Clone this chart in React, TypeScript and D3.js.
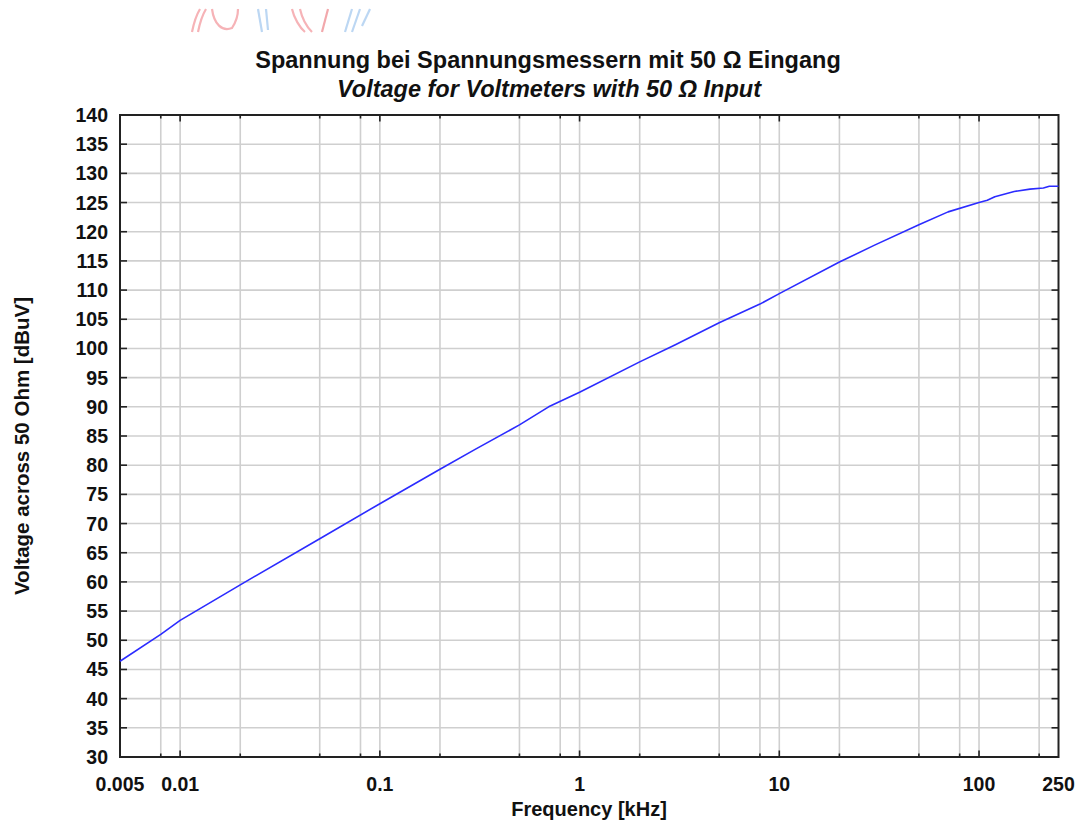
import React, { useEffect, useRef } from 'react';
import * as d3 from 'd3';

// values
const freqKHz = [0.005, 0.008, 0.01, 0.02, 0.05, 0.1, 0.2, 0.3, 0.5, 0.7, 1, 2, 3, 5, 8, 10, 20, 30, 50, 70, 100, 110, 120, 150, 180, 210, 225, 250];
const voltageDbuv = [46.4, 51.0, 53.4, 59.5, 67.4, 73.4, 79.3, 82.7, 86.9, 90.0, 92.5, 97.7, 100.6, 104.4, 107.6, 109.4, 114.8, 117.7, 121.2, 123.4, 125.0, 125.4, 126.0, 126.9, 127.3, 127.5, 127.8, 127.8];

const xLabelTicks = [0.005, 0.01, 0.1, 1, 10, 100, 250];
const xMajorTicks = [0.01, 0.1, 1, 10, 100];
const xMinorTicks = [0.008, 0.02, 0.05, 0.08, 0.2, 0.5, 0.8, 2, 5, 8, 20, 50, 80, 200];
const yTicks = d3.range(30, 141, 5);

const titleDe = 'Spannung bei Spannungsmessern mit 50 \u03A9 Eingang';
const titleEn = 'Voltage for Voltmeters with 50 \u03A9 Input';
const xTitle = 'Frequency [kHz]';
const yTitle = 'Voltage across 50 Ohm [dBuV]';

const App = () => {
  const ref = useRef<SVGSVGElement>(null);

  useEffect(() => {
    const svg = d3.select(ref.current);
    svg.selectAll('*').remove();

    const W = 1081;
    const H = 823;
    const left = 120;
    const right = 1058.5;
    const top = 115;
    const bottom = 757;
    const font = '"Liberation Sans", Arial, sans-serif';

    const x = d3.scaleLog().domain([0.005, 250]).range([left, right]);
    const y = d3.scaleLinear().domain([30, 140]).range([bottom, top]);

    svg.attr('width', W).attr('height', H);
    svg.append('rect').attr('width', W).attr('height', H).attr('fill', '#fff');

    // faded logo remains at the top edge
    const logo = svg.append('g').attr('fill', 'none').attr('stroke-width', 2.2);
    const red = '#f6b3b7';
    const blue = '#bcd7f3';
    logo.append('path').attr('d', 'M192,32 C194,22 197,14 200,9').attr('stroke', red);
    logo.append('path').attr('d', 'M198,32 C200,22 203,14 206,9').attr('stroke', red);
    logo.append('path').attr('d', 'M212,9 C214,24 222,32 232,28 C236,22 238,14 238,9').attr('stroke', red);
    logo.append('path').attr('d', 'M258,9 L262,32').attr('stroke', blue);
    logo.append('path').attr('d', 'M266,9 L268,30').attr('stroke', blue);
    logo.append('path').attr('d', 'M292,9 C294,18 300,28 305,32').attr('stroke', red);
    logo.append('path').attr('d', 'M300,9 C302,18 306,26 312,32').attr('stroke', red);
    logo.append('path').attr('d', 'M322,32 L328,9').attr('stroke', '#f2a8ac');
    logo.append('path').attr('d', 'M345,32 L352,9').attr('stroke', blue);
    logo.append('path').attr('d', 'M352,32 L360,9').attr('stroke', blue);
    logo.append('path').attr('d', 'M362,26 L370,9').attr('stroke', blue);

    // titles
    svg
      .append('text')
      .attr('x', 548)
      .attr('y', 68)
      .attr('text-anchor', 'middle')
      .style('font', `bold 23.5px ${font}`)
      .attr('fill', '#111')
      .text(titleDe);
    svg
      .append('text')
      .attr('x', 549)
      .attr('y', 97)
      .attr('text-anchor', 'middle')
      .style('font', `italic bold 23.5px ${font}`)
      .attr('fill', '#111')
      .text(titleEn);

    // grid
    const grid = svg.append('g').attr('stroke', '#cfcfcf').attr('stroke-width', 1.6);
    grid
      .selectAll('line.gx')
      .data([...xMinorTicks, ...xMajorTicks])
      .enter()
      .append('line')
      .attr('x1', (d) => x(d))
      .attr('x2', (d) => x(d))
      .attr('y1', top)
      .attr('y2', bottom);
    grid
      .selectAll('line.gy')
      .data(yTicks.filter((d) => d > 30 && d < 140))
      .enter()
      .append('line')
      .attr('x1', left)
      .attr('x2', right)
      .attr('y1', (d) => y(d))
      .attr('y2', (d) => y(d));

    // ticks on all four sides, pointing inward
    const ticks = svg.append('g').attr('stroke', '#222').attr('stroke-width', 1.6);
    const addXTicks = (vals: number[], len: number) => {
      vals.forEach((v) => {
        ticks.append('line').attr('x1', x(v)).attr('x2', x(v)).attr('y1', bottom).attr('y2', bottom - len);
        ticks.append('line').attr('x1', x(v)).attr('x2', x(v)).attr('y1', top).attr('y2', top + len);
      });
    };
    addXTicks(xMinorTicks, 3.5);
    addXTicks(xMajorTicks, 6.5);
    yTicks.forEach((v) => {
      ticks.append('line').attr('x1', left).attr('x2', left + 7).attr('y1', y(v)).attr('y2', y(v));
      ticks.append('line').attr('x1', right).attr('x2', right - 7).attr('y1', y(v)).attr('y2', y(v));
    });

    // frame
    svg
      .append('rect')
      .attr('x', left)
      .attr('y', top)
      .attr('width', right - left)
      .attr('height', bottom - top)
      .attr('fill', 'none')
      .attr('stroke', '#222')
      .attr('stroke-width', 2);

    // data line
    const pts = freqKHz.map((f, i) => [f, voltageDbuv[i]] as [number, number]);
    const line = d3
      .line<[number, number]>()
      .x((d) => x(d[0]))
      .y((d) => y(d[1]));
    svg
      .append('path')
      .datum(pts)
      .attr('fill', 'none')
      .attr('stroke', '#2b2bff')
      .attr('stroke-width', 1.6)
      .attr('stroke-linejoin', 'round')
      .attr('d', line);

    // tick labels
    const labels = svg.append('g').style('font', `bold 19.5px ${font}`).attr('fill', '#111');
    yTicks.forEach((v) => {
      labels
        .append('text')
        .attr('x', 108)
        .attr('y', y(v))
        .attr('dy', '0.36em')
        .attr('text-anchor', 'end')
        .text(v);
    });
    xLabelTicks.forEach((v) => {
      labels
        .append('text')
        .attr('x', x(v))
        .attr('y', 791)
        .attr('text-anchor', 'middle')
        .text(String(v));
    });

    // axis titles
    svg
      .append('text')
      .attr('x', 589)
      .attr('y', 816)
      .attr('text-anchor', 'middle')
      .style('font', `bold 20px ${font}`)
      .attr('fill', '#111')
      .text(xTitle);
    svg
      .append('text')
      .attr('transform', 'translate(29,446) rotate(-90)')
      .attr('text-anchor', 'middle')
      .style('font', `bold 20.5px ${font}`)
      .attr('fill', '#111')
      .text(yTitle);
  }, []);

  return <svg ref={ref} style={{ position: 'absolute', left: 0, top: 0 }} />;
};

export default App;
